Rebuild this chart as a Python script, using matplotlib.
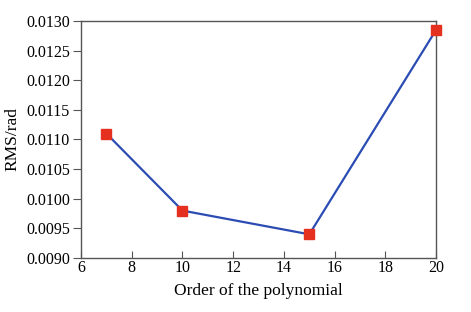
import numpy as np
import matplotlib
matplotlib.use("Agg")
import matplotlib.pyplot as plt

plt.rcParams['font.family'] = ['Liberation Serif', 'DejaVu Serif']

# polynomial order vs RMS error
order = [7, 10, 15, 20]
rms = [0.0111, 0.0098, 0.0094, 0.01285]

fig = plt.figure(figsize=(4.71, 3.12), dpi=100)
ax = fig.add_axes([0.172, 0.173, 0.754, 0.760])

ax.plot(order, rms, color="#2b4cb3", linewidth=1.6, zorder=2)
ax.plot(order, rms, linestyle="none", marker="s", markersize=7,
        color="#e5301f", zorder=3, clip_on=False)

ax.set_xlim(6, 20)
ax.set_ylim(0.0090, 0.0130)
ax.set_xticks(np.arange(6, 21, 2))
ax.set_yticks(np.arange(0.0090, 0.01301, 0.0005))
ax.yaxis.set_major_formatter(matplotlib.ticker.FormatStrFormatter("%.4f"))

for s in ax.spines.values():
    s.set_color("#555555")
    s.set_linewidth(1.0)
ax.tick_params(axis="x", direction="in", length=5, color="#555555",
               labelsize=11.5, pad=1.5)
ax.tick_params(axis="y", direction="out", length=6, color="#555555",
               labelsize=11.5, pad=2)

ax.set_xlabel("Order of the polynomial", fontsize=12.5, labelpad=5)
ax.set_ylabel("RMS/rad", fontsize=12.5, labelpad=4)

fig.savefig("out.png", dpi=100)
